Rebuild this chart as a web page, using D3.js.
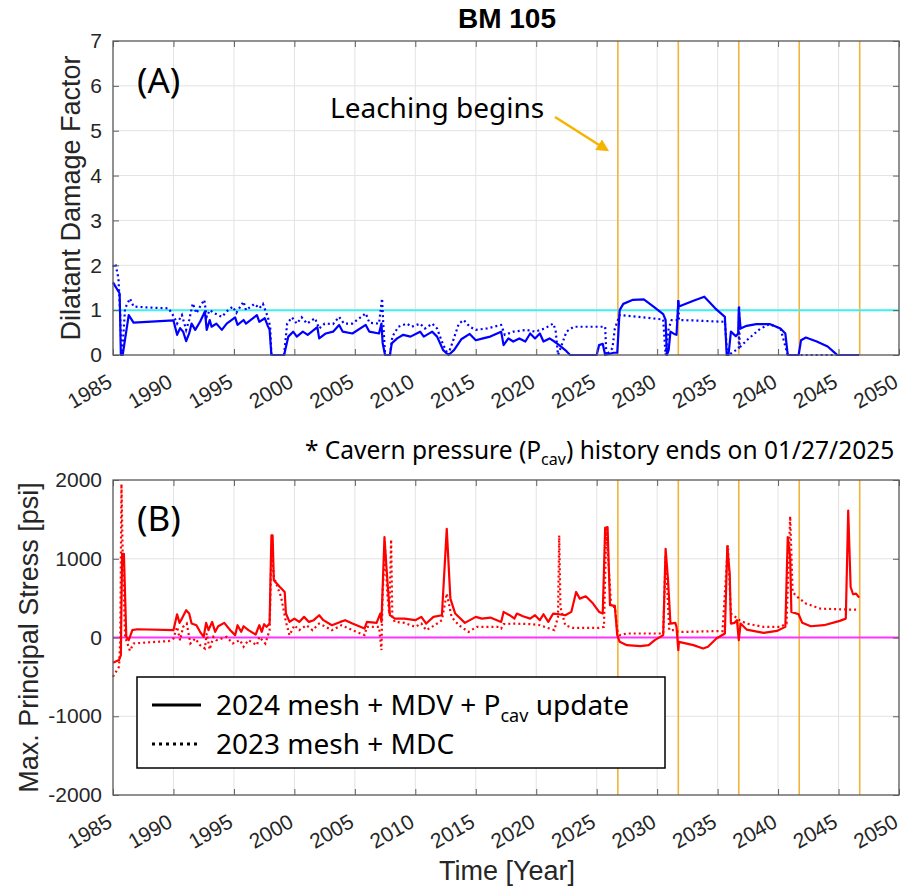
<!DOCTYPE html>
<html>
<head>
<meta charset="utf-8">
<script src="https://cdn.jsdelivr.net/npm/d3@7"></script>
<style>
  body { margin: 0; background: #fff; }
  text { font-family: "Liberation Sans", Arial, sans-serif; }
  .note { font-family: "Noto Sans", "Open Sans", sans-serif; }
</style>
</head>
<body>
<script>
// ---- data ----
const xTicks = [1985, 1990, 1995, 2000, 2005, 2010, 2015, 2020, 2025, 2030, 2035, 2040, 2045, 2050]
const yTicksA = [0, 1, 2, 3, 4, 5, 6, 7]
const yTicksB = [-2000, -1000, 0, 1000, 2000]
const leachYears = [2026.75, 2031.75, 2036.75, 2041.75, 2046.75]

// (A) dilatant damage factor, 2024 mesh + MDV + Pcav update
const ddf2024 = [[1985.0,1.62],[1985.55,1.37],[1985.65,0],[1985.8,0],[1986.3,0.89],[1986.7,0.72],[1987.8,0.74],[1990.0,0.77],[1990.3,0.45],[1990.55,0.6],[1990.8,0.52],[1991.05,0.31],[1991.3,0.48],[1991.5,0.7],[1991.8,0.56],[1992.2,0.74],[1992.6,0.97],[1992.75,0.56],[1993.0,0.78],[1993.15,0.63],[1993.55,0.7],[1994.0,0.56],[1994.4,0.7],[1995.1,0.84],[1995.3,0.67],[1995.8,0.78],[1996.0,0.7],[1996.9,0.89],[1997.1,0.74],[1997.55,0.82],[1997.8,0.65],[1997.95,0.56],[1998.1,0],[1999.15,0],[1999.5,0.41],[1999.9,0.52],[2000.2,0.41],[2000.7,0.52],[2001.1,0.45],[2001.9,0.62],[2002.05,0.37],[2002.6,0.48],[2003.2,0.52],[2003.7,0.67],[2004.0,0.52],[2004.8,0.48],[2005.9,0.67],[2006.2,0.52],[2007.0,0.48],[2007.2,0.7],[2007.3,0.26],[2007.5,0],[2007.9,0],[2008.05,0.26],[2008.5,0.37],[2009.0,0.45],[2009.6,0.41],[2010.4,0.52],[2010.7,0.41],[2011.4,0.52],[2011.8,0.41],[2012.3,0.11],[2012.75,0],[2013.2,0.11],[2013.8,0.35],[2014.5,0.47],[2015.0,0.33],[2015.6,0.37],[2016.2,0.41],[2017.1,0.52],[2017.3,0.22],[2017.7,0.37],[2018.1,0.3],[2018.6,0.37],[2019.1,0.3],[2019.5,0.48],[2019.9,0.37],[2020.3,0.48],[2020.6,0.3],[2021.1,0.37],[2021.5,0.3],[2021.9,0.22],[2022.4,0.11],[2022.8,0],[2025.0,0],[2025.2,0.22],[2025.5,0.25],[2025.7,0],[2026.4,0.05],[2026.7,0.05],[2026.9,1.0],[2027.2,1.14],[2028.0,1.23],[2028.9,1.24],[2029.7,1.08],[2030.5,0.91],[2030.7,0.78],[2030.8,0],[2030.95,0.11],[2031.1,0.52],[2031.4,0.47],[2031.6,0.45],[2031.75,1.2],[2031.8,1.08],[2033.0,1.21],[2033.9,1.3],[2034.8,1.04],[2035.6,0.85],[2035.75,0],[2035.9,0],[2036.1,0.52],[2036.5,0.42],[2036.7,0.48],[2036.75,1.05],[2036.9,0.59],[2037.4,0.65],[2038.2,0.69],[2039.3,0.69],[2040.2,0.59],[2040.6,0.48],[2040.8,0],[2041.7,0],[2041.9,0.33],[2042.3,0.39],[2043.2,0.3],[2044.1,0.19],[2044.6,0.07],[2044.9,0],[2046.7,0]]

// (A) dilatant damage factor, 2023 mesh + MDC
const ddf2023 = [[1985.0,1.97],[1985.2,2.04],[1985.45,1.71],[1985.6,0.9],[1985.7,0],[1985.75,0],[1986.0,1.04],[1986.4,1.26],[1986.7,1.08],[1987.8,1.06],[1989.6,1.04],[1990.05,0.85],[1990.3,0.7],[1990.7,0.89],[1991.05,0.56],[1991.3,0.78],[1991.6,1.15],[1991.9,0.93],[1992.2,1.08],[1992.55,1.23],[1992.75,0.85],[1993.0,1.0],[1993.4,0.93],[1994.0,0.85],[1994.4,0.97],[1994.9,1.08],[1995.2,0.94],[1995.8,1.19],[1996.0,1.0],[1996.7,1.14],[1997.1,1.04],[1997.4,1.14],[1997.8,0.85],[1998.0,0.63],[1998.1,0],[1999.15,0],[1999.4,0.7],[1999.8,0.84],[2000.2,0.7],[2000.6,0.84],[2001.05,0.7],[2001.7,0.82],[2002.05,0.59],[2002.5,0.7],[2003.2,0.69],[2003.7,0.85],[2004.1,0.7],[2004.8,0.7],[2005.9,0.93],[2006.2,0.72],[2007.0,0.7],[2007.25,1.26],[2007.35,0.7],[2007.5,0],[2007.9,0],[2008.1,0.41],[2008.6,0.63],[2009.3,0.7],[2009.7,0.63],[2010.4,0.7],[2010.8,0.59],[2011.4,0.7],[2011.8,0.59],[2012.2,0.3],[2012.7,0],[2013.05,0.26],[2013.6,0.7],[2014.0,0.78],[2014.5,0.63],[2015.0,0.56],[2015.9,0.59],[2016.2,0.61],[2017.1,0.67],[2017.4,0.45],[2018.1,0.52],[2019.2,0.56],[2019.9,0.52],[2020.7,0.59],[2021.4,0.7],[2021.6,0.56],[2021.8,0],[2022.1,0.22],[2022.5,0.52],[2023.1,0.63],[2024.2,0.63],[2025.7,0.63],[2025.8,0],[2026.3,0.15],[2026.5,0.59],[2026.9,0.89],[2028.5,0.85],[2030.5,0.79],[2030.7,0],[2030.95,0.59],[2031.2,0.78],[2031.7,0.78],[2031.75,1.23],[2031.8,0.78],[2033.0,0.77],[2035.6,0.74],[2035.8,0],[2035.9,0],[2036.75,0.15],[2036.78,1.1],[2036.82,0.17],[2037.5,0.35],[2038.5,0.58],[2039.3,0.69],[2040.2,0.59],[2040.8,0],[2046.7,0]]

// (B) max principal stress [psi], 2024 mesh + MDV + Pcav update
const mps2024 = [[1985.0,-320],[1985.5,-287],[1985.65,-224],[1985.75,1063],[1985.9,1063],[1986.1,8],[1986.3,-34],[1986.6,93],[1987.0,105],[1990.0,93],[1990.3,295],[1990.5,186],[1990.7,240],[1991.05,346],[1991.3,304],[1991.5,177],[1991.9,156],[1992.2,72],[1992.5,8],[1992.7,186],[1992.9,93],[1993.2,198],[1993.45,72],[1993.7,143],[1994.2,186],[1994.7,93],[1995.1,30],[1995.3,156],[1995.6,72],[1995.8,143],[1996.2,93],[1996.8,38],[1997.1,156],[1997.3,72],[1997.5,169],[1997.7,135],[1997.95,177],[1998.1,1296],[1998.2,1296],[1998.3,726],[1998.8,641],[1999.2,578],[1999.3,304],[1999.6,198],[2000.0,240],[2000.4,198],[2000.8,262],[2001.2,198],[2001.6,220],[2002.05,283],[2002.4,220],[2003.1,156],[2003.8,198],[2004.2,220],[2004.8,177],[2005.8,114],[2006.0,198],[2006.8,186],[2007.1,304],[2007.2,198],[2007.45,1275],[2007.65,810],[2007.9,283],[2008.3,240],[2009.1,240],[2010.0,220],[2010.5,262],[2010.9,177],[2011.5,262],[2012.2,283],[2012.6,1380],[2012.9,494],[2013.3,304],[2014.1,186],[2015.0,262],[2015.5,240],[2016.2,253],[2017.1,198],[2017.3,325],[2017.8,283],[2018.2,240],[2018.4,304],[2018.9,270],[2019.5,240],[2019.9,283],[2020.3,220],[2020.6,295],[2021.0,198],[2021.4,304],[2021.9,295],[2022.4,283],[2022.9,325],[2023.3,578],[2023.6,494],[2024.1,523],[2024.7,431],[2025.2,325],[2025.5,304],[2025.7,1393],[2025.9,1401],[2026.1,410],[2026.5,401],[2026.7,30],[2026.9,-55],[2027.5,-97],[2028.6,-110],[2029.3,-97],[2029.8,-34],[2030.5,30],[2030.7,1127],[2030.9,726],[2031.1,177],[2031.5,186],[2031.6,135],[2031.75,-160],[2031.8,-55],[2033.0,-97],[2033.8,-139],[2034.2,-118],[2034.9,-13],[2035.6,51],[2035.8,1157],[2036.0,810],[2036.1,177],[2036.4,186],[2036.6,220],[2036.75,-34],[2036.9,177],[2037.4,101],[2038.8,59],[2039.9,84],[2040.6,135],[2040.8,1275],[2041.0,1021],[2041.1,325],[2041.7,295],[2042.0,186],[2042.7,143],[2043.8,156],[2045.1,211],[2045.6,240],[2045.8,1612],[2046.0,641],[2046.2,549],[2046.45,557],[2046.7,507]]

// (B) max principal stress [psi], 2023 mesh + MDC
const mps2023 = [[1985.0,-498],[1985.5,-371],[1985.6,-34],[1985.7,1950],[1985.8,1063],[1986.0,10],[1986.4,-169],[1986.7,-76],[1987.8,-63],[1989.6,-46],[1990.0,-13],[1990.3,135],[1990.55,-34],[1990.8,135],[1991.1,177],[1991.4,-76],[1991.8,-13],[1992.2,-97],[1992.6,-139],[1992.75,51],[1993.0,-152],[1993.3,8],[1993.55,-34],[1994.4,8],[1994.9,-76],[1995.5,-34],[1995.8,-118],[1996.2,-34],[1996.9,-97],[1997.1,8],[1997.6,-76],[1997.95,93],[1998.1,1106],[1998.3,770],[1998.9,515],[1999.3,198],[1999.6,30],[2000.0,156],[2000.4,93],[2001.0,156],[2001.5,93],[2002.05,177],[2002.6,135],[2003.1,93],[2003.9,156],[2004.8,93],[2005.8,30],[2006.0,135],[2007.0,135],[2007.2,-160],[2007.3,580],[2007.5,1110],[2007.7,520],[2007.85,300],[2008.0,1245],[2008.1,262],[2008.3,198],[2009.1,186],[2010.0,135],[2010.5,177],[2010.9,93],[2011.6,156],[2012.2,220],[2012.6,558],[2013.0,262],[2013.6,156],[2014.4,72],[2015.1,135],[2016.9,135],[2017.1,114],[2017.3,170],[2018.1,177],[2019.5,170],[2020.3,156],[2021.1,114],[2021.5,93],[2021.8,262],[2021.9,1296],[2022.0,389],[2022.4,156],[2023.0,122],[2025.2,122],[2025.6,135],[2025.8,1380],[2026.2,389],[2026.5,389],[2026.7,93],[2026.9,30],[2027.5,51],[2030.5,51],[2030.7,1042],[2031.0,93],[2031.5,93],[2031.75,72],[2032.4,72],[2034.6,80],[2035.4,80],[2035.85,1170],[2036.1,304],[2036.8,220],[2037.4,177],[2038.8,135],[2040.2,135],[2040.7,177],[2041.0,1540],[2041.2,578],[2041.6,515],[2042.3,431],[2043.5,367],[2045.7,355],[2046.7,355]]

// ---- layout ----
const WIDTH = 911
const HEIGHT = 890
const left = 113, right = 899
const panelA = { top: 41, bottom: 355, labelX: 80 }
const panelB = { top: 480, bottom: 795, labelX: 38 }

const AXIS_COL = '#262626'
const BOX_COL = '#5f5f5f'
const GRID_COL = '#e3e3e3'
const ORANGE = '#f0b43c'

svg = d3.select('body').append('svg')
    .attr('width', WIDTH)
    .attr('height', HEIGHT)

x = d3.scaleLinear().domain([1985, 2050]).range([left, right])
yA = d3.scaleLinear().domain([0, 7]).range([panelA.bottom, panelA.top])
yB = d3.scaleLinear().domain([-2000, 2000]).range([panelB.bottom, panelB.top])

// matlab prints a plain hyphen for negatives
plain = d => String(d)

function drawPanel(y, yTicks, panel, s2024, s2023, color, refVal, refColor, ylabel) {
    g = svg.append('g')

    // grid
    g.append('g').selectAll('line').data(xTicks).join('line')
        .attr('x1', d => x(d)).attr('x2', d => x(d))
        .attr('y1', panel.top).attr('y2', panel.bottom)
        .attr('stroke', GRID_COL).attr('stroke-width', 1)
    g.append('g').selectAll('line').data(yTicks).join('line')
        .attr('x1', left).attr('x2', right)
        .attr('y1', d => y(d)).attr('y2', d => y(d))
        .attr('stroke', GRID_COL).attr('stroke-width', 1)

    // leaching stages
    g.append('g').selectAll('line').data(leachYears).join('line')
        .attr('x1', d => x(d)).attr('x2', d => x(d))
        .attr('y1', panel.top).attr('y2', panel.bottom)
        .attr('stroke', ORANGE).attr('stroke-width', 1.6)

    // reference line
    g.append('line')
        .attr('x1', left).attr('x2', right)
        .attr('y1', y(refVal)).attr('y2', y(refVal))
        .attr('stroke', refColor).attr('stroke-width', 2)

    line = d3.line().x(d => x(d[0])).y(d => y(d[1]))

    g.append('path').datum(s2023)
        .attr('d', line)
        .attr('fill', 'none')
        .attr('stroke', color)
        .attr('stroke-width', 2.2)
        .attr('stroke-dasharray', '2,3')
    g.append('path').datum(s2024)
        .attr('d', line)
        .attr('fill', 'none')
        .attr('stroke', color)
        .attr('stroke-width', 2.2)
        .attr('stroke-linejoin', 'round')

    // axes, ticks inside like matlab
    bottom = g.append('g')
        .attr('transform', `translate(0,${panel.bottom})`)
        .call(d3.axisBottom(x).tickValues(xTicks).tickSize(-6).tickFormat(plain))
    bottom.selectAll('text')
        .attr('x', 0).attr('y', 0).attr('dy', 0)
        .attr('text-anchor', 'end')
        .attr('transform', 'translate(0,31) rotate(-30)')
    g.append('g')
        .attr('transform', `translate(0,${panel.top})`)
        .call(d3.axisTop(x).tickValues(xTicks).tickSize(-6).tickFormat(''))
    g.append('g')
        .attr('transform', `translate(${left},0)`)
        .call(d3.axisLeft(y).tickValues(yTicks).tickSize(-6).tickPadding(11).tickFormat(plain))
    g.append('g')
        .attr('transform', `translate(${right},0)`)
        .call(d3.axisRight(y).tickValues(yTicks).tickSize(-6).tickFormat(''))

    g.selectAll('.domain').remove()
    g.selectAll('.tick line').attr('stroke', BOX_COL)
    g.selectAll('.tick text')
        .attr('font-size', 21)
        .attr('font-family', '"Liberation Sans", Arial, sans-serif')
        .attr('fill', AXIS_COL)

    g.append('rect')
        .attr('x', left).attr('y', panel.top)
        .attr('width', right - left).attr('height', panel.bottom - panel.top)
        .attr('fill', 'none').attr('stroke', BOX_COL).attr('stroke-width', 1.3)

    g.append('text')
        .attr('transform', `translate(${panel.labelX},${(panel.top + panel.bottom) / 2}) rotate(-90)`)
        .attr('text-anchor', 'middle')
        .attr('font-size', 27)
        .attr('fill', AXIS_COL)
        .text(ylabel)
}

drawPanel(yA, yTicksA, panelA, ddf2024, ddf2023, '#0000ff', 1, '#3ff0f0', 'Dilatant Damage Factor')
drawPanel(yB, yTicksB, panelB, mps2024, mps2023, '#ff0000', 0, '#ff33ff', 'Max. Principal Stress [psi]')

// title and x label
svg.append('text')
    .attr('x', 507).attr('y', 28)
    .attr('text-anchor', 'middle')
    .attr('font-size', 28)
    .attr('font-weight', 'bold')
    .attr('fill', '#000')
    .text('BM 105')

svg.append('text')
    .attr('x', 507).attr('y', 880)
    .attr('text-anchor', 'middle')
    .attr('font-size', 27)
    .attr('fill', AXIS_COL)
    .text('Time [Year]')

// annotations
svg.append('text').attr('class', 'note')
    .attr('x', 137).attr('y', 93)
    .attr('font-size', 35)
    .text('(A)')
svg.append('text').attr('class', 'note')
    .attr('x', 137).attr('y', 531)
    .attr('font-size', 35)
    .text('(B)')

svg.append('text').attr('class', 'note')
    .attr('x', 330).attr('y', 118)
    .attr('font-size', 28)
    .text('Leaching begins')

defs = svg.append('defs')
defs.append('marker')
    .attr('id', 'head')
    .attr('viewBox', '0 0 10 10')
    .attr('refX', 8).attr('refY', 5)
    .attr('markerWidth', 5).attr('markerHeight', 5)
    .attr('orient', 'auto')
    .append('path').attr('d', 'M0,0 L10,5 L0,10 z').attr('fill', '#f5b400')

svg.append('line')
    .attr('x1', 555).attr('y1', 117)
    .attr('x2', 607).attr('y2', 150)
    .attr('stroke', '#f5b400').attr('stroke-width', 2.5)
    .attr('marker-end', 'url(#head)')

cav = svg.append('text').attr('class', 'note')
    .attr('x', 305).attr('y', 459)
    .attr('font-size', 24.5)
cav.append('tspan').text('* Cavern pressure (P')
cav.append('tspan').attr('font-size', 16).attr('dy', 6).text('cav')
cav.append('tspan').attr('dy', -6).text(') history ends on 01/27/2025')

// legend
lg = svg.append('g')
lg.append('rect')
    .attr('x', 137).attr('y', 677)
    .attr('width', 528).attr('height', 91)
    .attr('fill', '#fff').attr('stroke', '#000').attr('stroke-width', 1.5)
lg.append('line')
    .attr('x1', 152).attr('x2', 201).attr('y1', 705).attr('y2', 705)
    .attr('stroke', '#000').attr('stroke-width', 3)
lg.append('line')
    .attr('x1', 152).attr('x2', 201).attr('y1', 744).attr('y2', 744)
    .attr('stroke', '#000').attr('stroke-width', 3)
    .attr('stroke-dasharray', '3,4')
t1 = lg.append('text').attr('class', 'note')
    .attr('x', 216).attr('y', 715)
    .attr('font-size', 28)
t1.append('tspan').text('2024 mesh + MDV + P')
t1.append('tspan').attr('font-size', 18).attr('dy', 7).text('cav')
t1.append('tspan').attr('dy', -7).text(' update')
lg.append('text').attr('class', 'note')
    .attr('x', 216).attr('y', 754)
    .attr('font-size', 28)
    .text('2023 mesh + MDC')
</script>
</body>
</html>
